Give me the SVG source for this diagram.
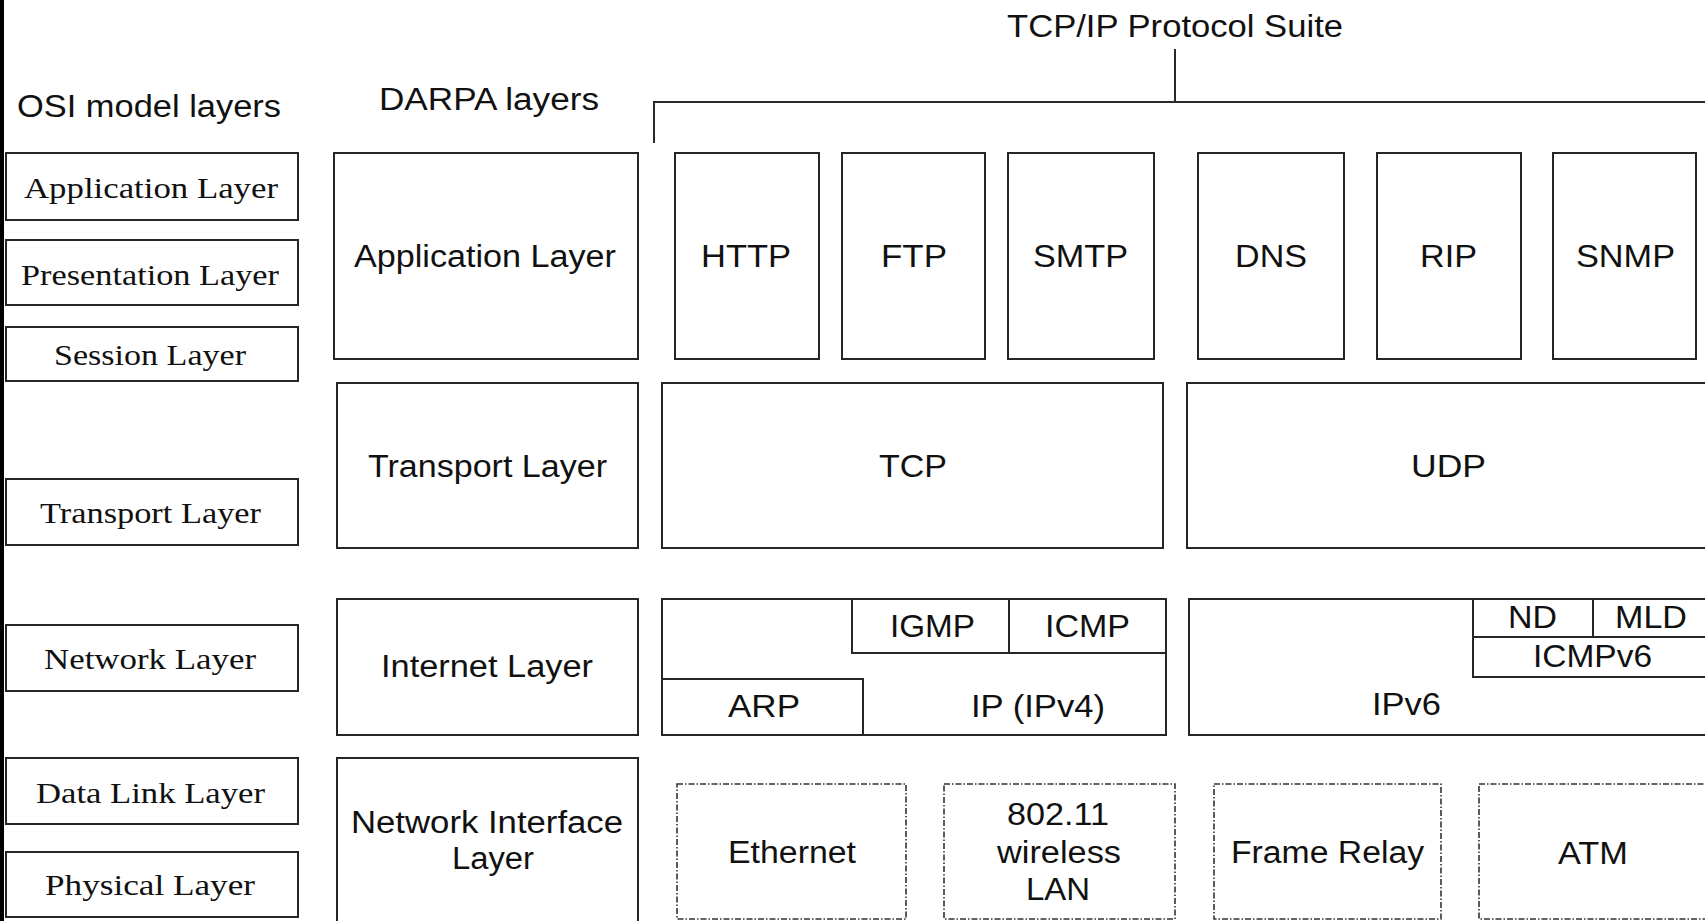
<svg xmlns="http://www.w3.org/2000/svg" width="1705" height="921" viewBox="0 0 1705 921">
  <style>
    .box { fill: #ffffff; stroke: #262626; stroke-width: 2; }
    .div { fill: none; stroke: #262626; stroke-width: 2; }
    .dash { fill: #ffffff; stroke: #333333; stroke-width: 1.6; stroke-dasharray: 6 2 1.5 2; }
    .wire { fill: none; stroke: #2a2a2a; stroke-width: 2; }
    .sans { font-family: "Liberation Sans", Arial, sans-serif; font-size: 31px; fill: #111111; text-anchor: middle; }
    .serif { font-family: "Liberation Serif", "Times New Roman", serif; font-size: 30px; fill: #111111; text-anchor: middle; }
  </style>

  <rect x="0" y="0" width="1705" height="921" fill="#ffffff"/>
  <rect x="0" y="0" width="4" height="921" fill="#000000"/>

  <!-- column headings -->
  <g id="headings">
    <text class="sans" x="149" y="117" textLength="264" lengthAdjust="spacingAndGlyphs">OSI model layers</text>
    <text class="sans" x="489" y="110" textLength="220" lengthAdjust="spacingAndGlyphs">DARPA layers</text>
    <text class="sans" x="1175" y="37" textLength="336" lengthAdjust="spacingAndGlyphs">TCP/IP Protocol Suite</text>
  </g>

  <!-- bracket grouping the protocol suite -->
  <g id="connectors">
    <path class="wire" d="M654 143 V102 H1720"/>
    <line class="wire" x1="1175" y1="49" x2="1175" y2="102"/>
  </g>

  <!-- OSI model column -->
  <g id="osi-application">
    <rect class="box" x="6" y="153" width="292" height="67"/>
    <text class="serif" x="151" y="198" textLength="254" lengthAdjust="spacingAndGlyphs">Application Layer</text>
  </g>
  <g id="osi-presentation">
    <rect class="box" x="6" y="240" width="292" height="65"/>
    <text class="serif" x="150" y="285" textLength="258" lengthAdjust="spacingAndGlyphs">Presentation Layer</text>
  </g>
  <g id="osi-session">
    <rect class="box" x="6" y="327" width="292" height="54"/>
    <text class="serif" x="150" y="365" textLength="192" lengthAdjust="spacingAndGlyphs">Session Layer</text>
  </g>
  <g id="osi-transport">
    <rect class="box" x="6" y="479" width="292" height="66"/>
    <text class="serif" x="150.5" y="523" textLength="221" lengthAdjust="spacingAndGlyphs">Transport Layer</text>
  </g>
  <g id="osi-network">
    <rect class="box" x="6" y="625" width="292" height="66"/>
    <text class="serif" x="150" y="669" textLength="212" lengthAdjust="spacingAndGlyphs">Network Layer</text>
  </g>
  <g id="osi-datalink">
    <rect class="box" x="6" y="758" width="292" height="66"/>
    <text class="serif" x="150.5" y="803" textLength="229" lengthAdjust="spacingAndGlyphs">Data Link Layer</text>
  </g>
  <g id="osi-physical">
    <rect class="box" x="6" y="852" width="292" height="65"/>
    <text class="serif" x="150" y="895" textLength="210" lengthAdjust="spacingAndGlyphs">Physical Layer</text>
  </g>

  <!-- DARPA column -->
  <g id="darpa-application">
    <rect class="box" x="334" y="153" width="304" height="206"/>
    <text class="sans" x="485" y="267" textLength="262" lengthAdjust="spacingAndGlyphs">Application Layer</text>
  </g>
  <g id="darpa-transport">
    <rect class="box" x="337" y="383" width="301" height="165"/>
    <text class="sans" x="487.5" y="477" textLength="239" lengthAdjust="spacingAndGlyphs">Transport Layer</text>
  </g>
  <g id="darpa-internet">
    <rect class="box" x="337" y="599" width="301" height="136"/>
    <text class="sans" x="487" y="677" textLength="212" lengthAdjust="spacingAndGlyphs">Internet Layer</text>
  </g>
  <g id="darpa-netif">
    <rect class="box" x="337" y="758" width="301" height="180"/>
    <text class="sans" x="487" y="833" textLength="272" lengthAdjust="spacingAndGlyphs">Network Interface</text>
    <text class="sans" x="493" y="869" textLength="82" lengthAdjust="spacingAndGlyphs">Layer</text>
  </g>

  <!-- application protocols -->
  <g id="http">
    <rect class="box" x="675" y="153" width="144" height="206"/>
    <text class="sans" x="746" y="267" textLength="90" lengthAdjust="spacingAndGlyphs">HTTP</text>
  </g>
  <g id="ftp">
    <rect class="box" x="842" y="153" width="143" height="206"/>
    <text class="sans" x="914" y="267" textLength="66" lengthAdjust="spacingAndGlyphs">FTP</text>
  </g>
  <g id="smtp">
    <rect class="box" x="1008" y="153" width="146" height="206"/>
    <text class="sans" x="1080.5" y="267" textLength="95" lengthAdjust="spacingAndGlyphs">SMTP</text>
  </g>
  <g id="dns">
    <rect class="box" x="1198" y="153" width="146" height="206"/>
    <text class="sans" x="1271" y="267" textLength="72" lengthAdjust="spacingAndGlyphs">DNS</text>
  </g>
  <g id="rip">
    <rect class="box" x="1377" y="153" width="144" height="206"/>
    <text class="sans" x="1448.5" y="267" textLength="57" lengthAdjust="spacingAndGlyphs">RIP</text>
  </g>
  <g id="snmp">
    <rect class="box" x="1553" y="153" width="143" height="206"/>
    <text class="sans" x="1625.5" y="267" textLength="99" lengthAdjust="spacingAndGlyphs">SNMP</text>
  </g>

  <!-- transport protocols -->
  <g id="tcp">
    <rect class="box" x="662" y="383" width="501" height="165"/>
    <text class="sans" x="913" y="477" textLength="68" lengthAdjust="spacingAndGlyphs">TCP</text>
  </g>
  <g id="udp">
    <rect class="box" x="1187" y="383" width="540" height="165"/>
    <text class="sans" x="1448.5" y="477" textLength="75" lengthAdjust="spacingAndGlyphs">UDP</text>
  </g>

  <!-- IPv4 internet block -->
  <g id="ipv4">
    <rect class="box" x="662" y="599" width="504" height="136"/>
    <text class="sans" x="1038" y="717" textLength="134" lengthAdjust="spacingAndGlyphs">IP (IPv4)</text>
  </g>
  <g id="igmp-icmp">
    <rect class="box" x="852" y="599" width="314" height="54"/>
    <line class="div" x1="1009" y1="599" x2="1009" y2="653"/>
    <text class="sans" x="932.5" y="637" textLength="85" lengthAdjust="spacingAndGlyphs">IGMP</text>
    <text class="sans" x="1087.5" y="637" textLength="85" lengthAdjust="spacingAndGlyphs">ICMP</text>
  </g>
  <g id="arp">
    <rect class="box" x="662" y="679" width="201" height="56"/>
    <text class="sans" x="764" y="717" textLength="72" lengthAdjust="spacingAndGlyphs">ARP</text>
  </g>

  <!-- IPv6 internet block -->
  <g id="ipv6">
    <rect class="box" x="1189" y="599" width="540" height="136"/>
    <text class="sans" x="1406.5" y="715" textLength="69" lengthAdjust="spacingAndGlyphs">IPv6</text>
  </g>
  <g id="icmpv6">
    <rect class="box" x="1473" y="599" width="260" height="78"/>
    <line class="div" x1="1473" y1="637" x2="1733" y2="637" stroke-width="2.6"/>
    <line class="div" x1="1593" y1="599" x2="1593" y2="637"/>
    <text class="sans" x="1532.5" y="628" textLength="49" lengthAdjust="spacingAndGlyphs">ND</text>
    <text class="sans" x="1651" y="628" textLength="72" lengthAdjust="spacingAndGlyphs">MLD</text>
    <text class="sans" x="1592.5" y="667" textLength="119" lengthAdjust="spacingAndGlyphs">ICMPv6</text>
  </g>

  <!-- network interface technologies -->
  <g id="ethernet">
    <rect class="dash" x="677" y="784" width="229" height="135"/>
    <text class="sans" x="792" y="863" textLength="128" lengthAdjust="spacingAndGlyphs">Ethernet</text>
  </g>
  <g id="wlan">
    <rect class="dash" x="944" y="784" width="231" height="135"/>
    <text class="sans" x="1058" y="825" textLength="102" lengthAdjust="spacingAndGlyphs">802.11</text>
    <text class="sans" x="1059" y="863" textLength="124" lengthAdjust="spacingAndGlyphs">wireless</text>
    <text class="sans" x="1058" y="900" textLength="64" lengthAdjust="spacingAndGlyphs">LAN</text>
  </g>
  <g id="frame-relay">
    <rect class="dash" x="1214" y="784" width="227" height="135"/>
    <text class="sans" x="1327.5" y="863" textLength="193" lengthAdjust="spacingAndGlyphs">Frame Relay</text>
  </g>
  <g id="atm">
    <rect class="dash" x="1479" y="784" width="260" height="135"/>
    <text class="sans" x="1593" y="864" textLength="70" lengthAdjust="spacingAndGlyphs">ATM</text>
  </g>
</svg>
